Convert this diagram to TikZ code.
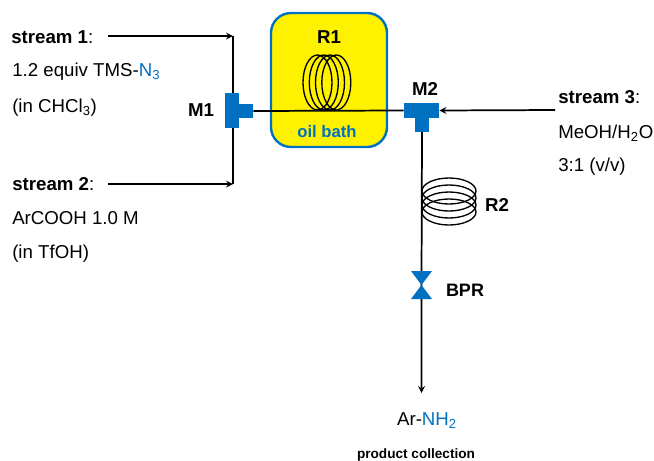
\documentclass[tikz,border=0pt]{standalone}
\usepackage{fontspec}
\setmainfont{Liberation Sans}
\usepackage{xcolor}
\usetikzlibrary{arrows,positioning}
\definecolor{flowblue}{RGB}{0,112,192}
\begin{document}
\begin{tikzpicture}[
  x=0.75pt, y=-0.75pt,
  txt/.style={anchor=west, inner sep=0pt, font=\fontsize{14}{16}\selectfont},
  btxt/.style={anchor=west, inner sep=0pt, font=\fontsize{14}{16}\selectfont\bfseries},
  lbl/.style={inner sep=0pt, font=\fontsize{14}{16}\selectfont\bfseries},
  tpiece/.style={fill=flowblue, inner sep=0pt},
  arr/.style={->, >=stealth, line width=1.3pt},
  pipe/.style={line width=1.3pt},
  coil/.style={line width=1pt},
]
  \useasboundingbox (0,0) rectangle (654,461);

  %% ---- oil bath ----
  \node[draw=flowblue, line width=1.8pt, fill=yellow, rounded corners=15pt,
        minimum width=87pt, minimum height=100.5pt, inner sep=0pt] (bath) at (329,80) {};
  \node[lbl] (r1) at (329,37) {R1};
  \node[lbl, font=\fontsize{12.5}{14}\selectfont\bfseries, text=flowblue] (oil) at (327,132) {oil bath};
  \foreach \cx in {317.5,323.8,330,336.3}
    \draw[coil] (\cx,82.5) ellipse (14.5 and 27.5);

  %% ---- mixers ----
  \node[tpiece, minimum width=10.5pt, minimum height=26.5pt] (m1) at (232,110.5) {};
  \node[tpiece, minimum width=10.5pt, minimum height=10.5pt] (m1s) at (246,111) {};
  \node[tpiece, minimum width=26.5pt, minimum height=11pt] (m2) at (421.5,110.5) {};
  \node[tpiece, minimum width=10.5pt, minimum height=10.5pt] (m2s) at (422,124.5) {};
  \node[lbl] (m1l) at (201,110) {M1};
  \node[lbl] (m2l) at (425,89) {M2};

  %% ---- feeds ----
  \coordinate (s1) at (108,36);
  \coordinate (c1) at (233,36);
  \coordinate (s2) at (108,184);
  \coordinate (c2) at (233,184);
  \coordinate (s3) at (555,110);
  \draw[arr] (s1) -- (c1);
  \draw[pipe] (c1) -- (m1.north -| c1);
  \draw[arr] (s2) -- (c2);
  \draw[pipe] (c2) -- (m1.south -| c2);
  \draw[pipe] (m1s.east) -- (m2.west);
  \draw[arr] (s3) -- (m2.east);

  %% ---- outlet ----
  \coordinate (bpr) at (421.5,285);
  \coordinate (out) at (421.5,393);
  \draw[arr] (m2s.south) -- (bpr) -- (out);
  \foreach \cy in {191,198,205,212}
    \draw[coil] (449,\cy) ellipse (27 and 13);
  \fill[flowblue] (411,271) -- (432,271) -- (bpr) -- (432,299) -- (411,299) -- (bpr) -- cycle;
  \node[lbl] (r2) at (497,205) {R2};
  \node[lbl, font=\fontsize{13.5}{15}\selectfont\bfseries] (bprl) at (465,290) {BPR};

  %% ---- texts ----
  \node[btxt] (t1) at (11,37) {stream 1\textmd{:}};
  \node[txt] (t1a) at (12,72) {1.2 equiv TMS-\textcolor{flowblue}{N\textsubscript{3}}};
  \node[txt] (t1b) at (12,108) {(in CHCl\textsubscript{3})};
  \node[btxt] (t2) at (12,184) {stream 2\textmd{:}};
  \node[txt] (t2a) at (12,218) {ArCOOH 1.0 M};
  \node[txt] (t2b) at (12,254) {(in TfOH)};
  \node[btxt] (t3) at (558,97) {stream 3\textmd{:}};
  \node[txt] (t3a) at (558,133) {MeOH/H\textsubscript{2}O};
  \node[txt] (t3b) at (558,167) {3:1 (v/v)};
  \node[inner sep=0pt, font=\fontsize{14}{16}\selectfont] (prod) at (427,421) {Ar-\textcolor{flowblue}{NH\textsubscript{2}}};
  \node[lbl, font=\fontsize{10.2}{12}\selectfont\bfseries] (coll) at (416,455) {product collection};
\end{tikzpicture}
\end{document}
